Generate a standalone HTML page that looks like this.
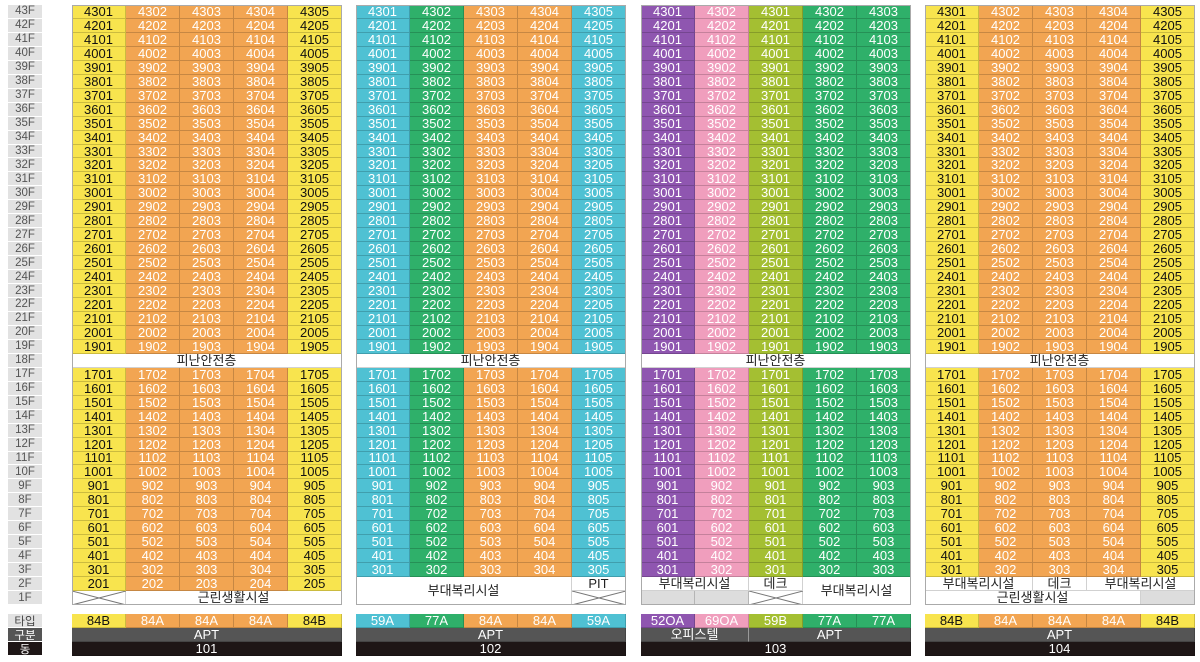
<!DOCTYPE html>
<html><head><meta charset="utf-8">
<style>
body{margin:0;background:#fff;width:1200px;height:662px;overflow:hidden;position:relative;font-family:"Liberation Sans","Noto Sans CJK KR",sans-serif;}
.c{position:absolute;box-sizing:border-box;display:flex;align-items:center;justify-content:center;font-size:13px;line-height:1;border-right:1px solid rgba(0,0,0,0.18);border-bottom:1px solid rgba(0,0,0,0.18);white-space:nowrap;}
.fl{position:absolute;box-sizing:border-box;display:flex;align-items:center;justify-content:center;font-size:11.5px;color:#555;background:#e2e2e2;border-bottom:1px solid #fff;}
.frame{position:absolute;box-sizing:border-box;border:1px solid #aaa;pointer-events:none;}
</style></head><body>
<script>
const floors=[];for(let f=43;f>=1;f--)floors.push(f);
const bldgX=[72,356,641,925];
const bldgNames=['101','102','103','104'];
const bldgW=270;
const top0=5, rowH=600/43;
const COL={Y:['#f8e44e','#111'],O:['#f2a552','#fff'],C:['#4fc1d3','#fff'],G:['#2fb06a','#fff'],P:['#8f56b0','#fff'],K:['#f09ebd','#fff'],L:['#a4bf32','#fff']};
const colColors=[['Y','O','O','O','Y'],['C','G','O','O','C'],['P','K','L','G','G'],['Y','O','O','O','Y']];
const colNums=[[1,2,3,4,5],[1,2,3,4,5],[1,2,1,2,3],[1,2,3,4,5]];
const types=[['84B','84A','84A','84A','84B'],['59A','77A','84A','84A','59A'],['52OA','69OA','59B','77A','77A'],['84B','84A','84A','84A','84B']];
const cw=bldgW/5;
function rowY(f){return top0+(43-f)*rowH;}
function cell(x,y,w,h,txt,bg,fg,name,extra){
 const d=document.createElement('div');d.className='c';
 d.style.left=x+'px';d.style.top=y+'px';d.style.width=w+'px';d.style.height=h+'px';
 d.style.background=bg;d.style.color=fg;d.textContent=txt;
 if(extra)Object.assign(d.style,extra);
 
 
 document.body.appendChild(d);return d;}
function xcell(x,y,w,h,name){
 const d=cell(x,y,w,h,'','#fff','#000',name);
 d.innerHTML='<svg width="'+w+'" height="'+h+'" style="position:absolute;left:0;top:0"><line x1="0" y1="0" x2="'+w+'" y2="'+h+'" stroke="#777" stroke-width="1"/><line x1="0" y1="'+h+'" x2="'+w+'" y2="0" stroke="#777" stroke-width="1"/></svg>';}
floors.forEach(f=>{const d=document.createElement('div');d.className='fl';
 d.style.left='8px';d.style.top=rowY(f)+'px';d.style.width='34px';d.style.height=rowH+'px';d.textContent=f+'F';
 
 
 document.body.appendChild(d);});
const lbl=[['타입','#e2e2e2','#444'],['구분','#555','#fff'],['동','#1e1616','#fff']];
lbl.forEach((l,i)=>{const d=document.createElement('div');d.className='fl';
 d.style.left='8px';d.style.top=(614+i*14)+'px';d.style.width='34px';d.style.height='14px';d.style.background=l[1];d.style.color=l[2];d.textContent=l[0];
 
 
 document.body.appendChild(d);});
for(let b=0;b<4;b++){
 const bx=bldgX[b];
 floors.forEach(f=>{
  if(f===18){cell(bx,rowY(f),bldgW,rowH,'피난안전층','#fff','#222','refuge-floor');return;}
  const minF=(b===0)?2:3;
  if(f<minF)return;
  for(let c=0;c<5;c++){const k=COL[colColors[b][c]];
   cell(bx+c*cw,rowY(f),cw,rowH,String(f*100+colNums[b][c]),k[0],k[1],'unit-cell');}
 });
 const y2=rowY(2),y1=rowY(1);
 if(b===0){xcell(bx,y1,cw,rowH,'no-unit');cell(bx+cw,y1,cw*4,rowH,'근린생활시설','#fff','#222','retail-facility');}
 if(b===1){cell(bx,y2,cw*4,rowH*2,'부대복리시설','#fff','#222','amenity-facility');cell(bx+cw*4,y2,cw,rowH,'PIT','#fff','#222','pit');xcell(bx+cw*4,y1,cw,rowH,'no-unit');}
 if(b===2){cell(bx,y2,cw*2,rowH,'부대복리시설','#fff','#222','amenity-facility');cell(bx+cw*2,y2,cw,rowH,'데크','#fff','#222','deck');
  cell(bx+cw*3,y2,cw*2,rowH*2,'부대복리시설','#fff','#222','amenity-facility');
  cell(bx,y1,cw,rowH,'','#ddd','#222','gray-cell');cell(bx+cw,y1,cw,rowH,'','#ddd','#222','gray-cell');xcell(bx+cw*2,y1,cw,rowH,'no-unit');}
 if(b===3){cell(bx,y2,cw*2,rowH,'부대복리시설','#fff','#222','amenity-facility');cell(bx+cw*2,y2,cw,rowH,'데크','#fff','#222','deck');
  cell(bx+cw*3,y2,cw*2,rowH,'부대복리시설','#fff','#222','amenity-facility');
  cell(bx,y1,cw*4,rowH,'근린생활시설','#fff','#222','retail-facility');cell(bx+cw*4,y1,cw,rowH,'','#ddd','#222','gray-cell');}
 const fr=document.createElement('div');fr.className='frame';fr.style.left=bx+'px';fr.style.top=top0+'px';fr.style.width=bldgW+'px';fr.style.height='600px';
 
 
 document.body.appendChild(fr);
 for(let c=0;c<5;c++){const k=COL[colColors[b][c]];cell(bx+c*cw,614,cw,14,types[b][c],k[0],k[1],'type-cell');}
 if(b===2){cell(bx,628,cw*2,14,'오피스텔','#555','#fff','category-officetel',{borderRight:'1px solid #999'});cell(bx+cw*2,628,cw*3,14,'APT','#555','#fff','category-apt');}
 else cell(bx,628,bldgW,14,'APT','#555','#fff','category-apt');
 cell(bx,642,bldgW,14,bldgNames[b],'#1e1616','#fff','building-number');
}
</script>
</body></html>
